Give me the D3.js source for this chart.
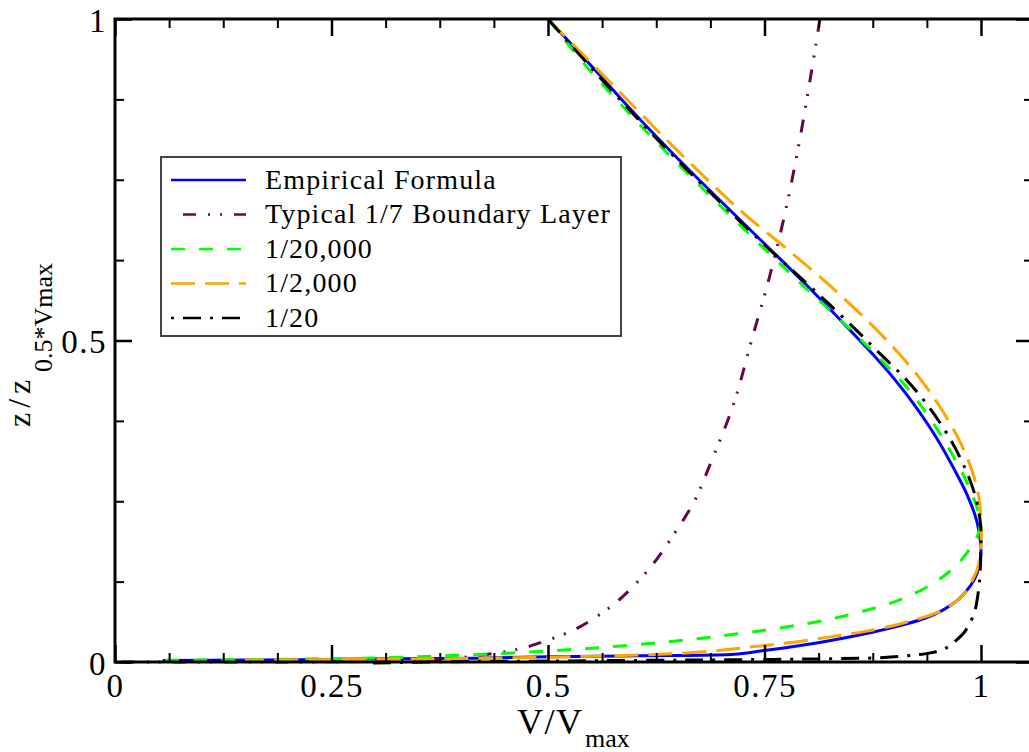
<!DOCTYPE html>
<html><head><meta charset="utf-8">
<script src="https://cdn.jsdelivr.net/npm/d3@7"></script>
<style>
body{margin:0;background:#fff;overflow:hidden} svg{display:block}
svg text{font-family:"Liberation Serif","Times New Roman",Tinos,"DejaVu Serif","Noto Serif",Times,serif;}
</style>
</head><body><svg id="c" width="1029" height="752"></svg>
<script>
// ---- data (V/Vmax, z/z0.5*Vmax) ----
const xMajorTicks = [0, 0.25, 0.5, 0.75, 1];
const xTickLabels = ["0", "0.25", "0.5", "0.75", "1"];
const xMinorTicks = [0.0625, 0.125, 0.1875, 0.3125, 0.375, 0.4375, 0.5625, 0.625, 0.6875, 0.8125, 0.875, 0.9375];
const yMajorTicks = [0, 0.5, 1];
const yTickLabels = ["0", "0.5", "1"];
const yMinorTicks = [0.125, 0.25, 0.375, 0.625, 0.75, 0.875];

const seriesNames = ["Empirical Formula", "Typical 1/7 Boundary Layer", "1/20,000", "1/2,000", "1/20"];

// each point: [V/Vmax, z/z0.5*Vmax]
const empirical = [
  [0.500,1.0],[0.548,0.93],[0.602,0.85],[0.652,0.78],[0.697,0.72],[0.758,0.64],[0.803,0.58],
  [0.846,0.52],[0.874,0.48],[0.900,0.44],[0.923,0.40],[0.948,0.35],[0.969,0.30],[0.984,0.26],
  [0.995,0.22],[0.999,0.19],[1.0,0.174],[0.998,0.15],[0.993,0.13],[0.983,0.11],[0.972,0.095],
  [0.955,0.08],[0.935,0.068],[0.908,0.057],[0.877,0.047],[0.845,0.038],[0.812,0.030],[0.778,0.023],
  [0.745,0.017],[0.715,0.012],[0.64,0.010],[0.56,0.009],[0.50,0.008],[0.42,0.006],[0.33,0.005],
  [0.24,0.004],[0.15,0.003],[0.055,0.0025]
];
const seventhLaw = [
  [0.814,1.0],[0.802,0.9],[0.789,0.8],[0.774,0.7],[0.756,0.6],[0.735,0.5],[0.714,0.4],[0.685,0.3],
  [0.669,0.25],[0.646,0.2],[0.620,0.15],[0.585,0.1],[0.561,0.075],[0.530,0.05],[0.491,0.03],
  [0.466,0.02],[0.420,0.01],[0.383,0.005],[0.335,0.002],[0.304,0.001],[0.22,0.0001],[0.0,0.0]
];
const green20000 = [
  [0.500,1.0],[0.542,0.93],[0.596,0.85],[0.646,0.78],[0.691,0.72],[0.752,0.64],[0.799,0.58],
  [0.847,0.52],[0.877,0.48],[0.906,0.44],[0.930,0.40],[0.955,0.35],[0.976,0.30],[0.990,0.26],
  [0.999,0.22],[0.997,0.20],[0.989,0.18],[0.978,0.16],[0.963,0.14],[0.942,0.12],[0.912,0.10],
  [0.880,0.085],[0.837,0.07],[0.800,0.06],[0.753,0.05],[0.697,0.04],[0.643,0.032],[0.585,0.025],
  [0.523,0.019],[0.458,0.014],[0.390,0.010],[0.320,0.007],[0.24,0.005],[0.17,0.004],[0.10,0.003],
  [0.055,0.0025]
];
const orange2000 = [
  [0.500,1.0],[0.573,0.90],[0.646,0.80],[0.724,0.70],[0.778,0.64],[0.830,0.58],[0.877,0.52],
  [0.905,0.48],[0.930,0.44],[0.951,0.40],[0.973,0.35],[0.989,0.30],[0.997,0.26],[1.0,0.22],
  [1.0,0.185],[0.997,0.15],[0.991,0.13],[0.983,0.11],[0.972,0.095],[0.955,0.08],[0.930,0.068],
  [0.903,0.058],[0.868,0.048],[0.830,0.040],[0.790,0.032],[0.745,0.025],[0.705,0.019],[0.660,0.014],
  [0.61,0.011],[0.55,0.009],[0.48,0.007],[0.40,0.0055],[0.32,0.0045],[0.22,0.0035],[0.15,0.003]
];
const black20 = [
  [0.500,1.0],[0.546,0.93],[0.600,0.85],[0.650,0.78],[0.695,0.72],[0.757,0.64],[0.806,0.58],
  [0.853,0.52],[0.883,0.48],[0.913,0.44],[0.938,0.40],[0.963,0.35],[0.982,0.30],[0.993,0.26],
  [0.999,0.22],[1.0,0.20],[0.999,0.14],[0.997,0.11],[0.993,0.08],[0.987,0.06],[0.980,0.045],
  [0.970,0.032],[0.960,0.022],[0.945,0.015],[0.925,0.011],[0.900,0.008],[0.87,0.006],[0.82,0.005],
  [0.76,0.004],[0.66,0.003],[0.55,0.002],[0.45,0.001],[0.36,0.0],[0.29,-0.002]
];
const seriesData = [empirical, seventhLaw, green20000, orange2000, black20];
const seriesColors = ["#0000ff", "#670748", "#00ff00", "#ffa500", "#000000"];
const seriesDash = ["", "13,12,2,10,2,12", "14,14", "24,10", "18,9,3,9"];
const legendDashOffset = [0, 39, 0, 0, 27];

// ---- layout ----
const svg = d3.select("#c");
const x = d3.scaleLinear().domain([0, 1]).range([115, 981]);
const y = d3.scaleLinear().domain([0, 1]).range([662, 19]);
const xRight = 1.06;

// curves
const line = d3.line().x(d => x(d[0])).y(d => y(d[1])).curve(d3.curveCatmullRom.alpha(0.5));
svg.append("g").selectAll("path").data(seriesData).join("path")
  .attr("d", line)
  .attr("fill", "none")
  .attr("stroke", (d, i) => seriesColors[i])
  .attr("stroke-width", 3)
  .attr("stroke-dasharray", (d, i) => seriesDash[i] || null);

// axes (inward ticks)
function styleAxis(g, w) {
  g.select(".domain").remove();
  g.selectAll(".tick line").attr("stroke", "#000").attr("stroke-width", w);
}
const xMaj = svg.append("g").attr("transform", `translate(0,${y(0)})`)
  .call(d3.axisBottom(x).tickValues(xMajorTicks).tickSizeInner(-17).tickSizeOuter(0)
        .tickFormat((d, i) => xTickLabels[i]));
styleAxis(xMaj, 2.5);
xMaj.selectAll(".tick text").attr("y", 35).attr("dy", null)
  .attr("font-size", 33).attr("letter-spacing", 1.5).attr("fill", "#000");
const xMin = svg.append("g").attr("transform", `translate(0,${y(0)})`)
  .call(d3.axisBottom(x).tickValues(xMinorTicks).tickSizeInner(-9).tickSizeOuter(0).tickFormat(""));
styleAxis(xMin, 2);
const xTopMaj = svg.append("g").attr("transform", `translate(0,${y(1)})`)
  .call(d3.axisTop(x).tickValues(xMajorTicks).tickSizeInner(-17).tickSizeOuter(0).tickFormat(""));
styleAxis(xTopMaj, 2.5);
const xTopMin = svg.append("g").attr("transform", `translate(0,${y(1)})`)
  .call(d3.axisTop(x).tickValues(xMinorTicks).tickSizeInner(-9).tickSizeOuter(0).tickFormat(""));
styleAxis(xTopMin, 2);

const yMaj = svg.append("g").attr("transform", `translate(${x(0)},0)`)
  .call(d3.axisLeft(y).tickValues(yMajorTicks).tickSizeInner(-17).tickSizeOuter(0)
        .tickFormat((d, i) => yTickLabels[i]));
styleAxis(yMaj, 2.5);
yMaj.selectAll(".tick text").attr("x", -8).attr("dy", 12).attr("text-anchor", "end")
  .attr("font-size", 33).attr("letter-spacing", 1.5).attr("fill", "#000");
const yMin = svg.append("g").attr("transform", `translate(${x(0)},0)`)
  .call(d3.axisLeft(y).tickValues(yMinorTicks).tickSizeInner(-9).tickSizeOuter(0).tickFormat(""));
styleAxis(yMin, 2);
const yRMaj = svg.append("g").attr("transform", `translate(${x(xRight)},0)`)
  .call(d3.axisRight(y).tickValues(yMajorTicks).tickSizeInner(-17).tickSizeOuter(0).tickFormat(""));
styleAxis(yRMaj, 2.5);
const yRMin = svg.append("g").attr("transform", `translate(${x(xRight)},0)`)
  .call(d3.axisRight(y).tickValues(yMinorTicks).tickSizeInner(-9).tickSizeOuter(0).tickFormat(""));
styleAxis(yRMin, 2);

// frame
svg.append("rect").attr("x", x(0)).attr("y", y(1))
  .attr("width", x(xRight) - x(0)).attr("height", y(0) - y(1))
  .attr("fill", "none").attr("stroke", "#000").attr("stroke-width", 3);

// axis titles
const xt = svg.append("text").attr("fill", "#000");
xt.append("tspan").attr("x", 517).attr("y", 734).attr("font-size", 36).attr("letter-spacing", 1.5).text("V/V");
xt.append("tspan").attr("x", 585).attr("y", 747).attr("font-size", 26).text("max");

const yt = svg.append("g").attr("transform", "translate(30,427) rotate(-90)");
const ytt = yt.append("text").attr("fill", "#000");
ytt.append("tspan").attr("x", 0).attr("y", 0).attr("font-size", 32).attr("letter-spacing", 5).text("z/z");
ytt.append("tspan").attr("x", 55).attr("y", 22).attr("font-size", 26).text("0.5*Vmax");

// legend
const lg = svg.append("g");
lg.append("rect").attr("x", 161).attr("y", 157).attr("width", 460).attr("height", 179)
  .attr("fill", "#fff").attr("stroke", "#444").attr("stroke-width", 2);
seriesNames.forEach((name, i) => {
  const yy = 180 + i * 34.5;
  lg.append("line").attr("x1", 171).attr("x2", 246).attr("y1", yy).attr("y2", yy)
    .attr("stroke", seriesColors[i]).attr("stroke-width", 2.5)
    .attr("stroke-dasharray", seriesDash[i] || null)
    .attr("stroke-dashoffset", legendDashOffset[i]);
  lg.append("text").attr("x", 265).attr("y", yy + 8.5)
    .attr("font-size", 28).attr("letter-spacing", 1.15)
    .attr("fill", "#000").text(name);
});
</script></body></html>
